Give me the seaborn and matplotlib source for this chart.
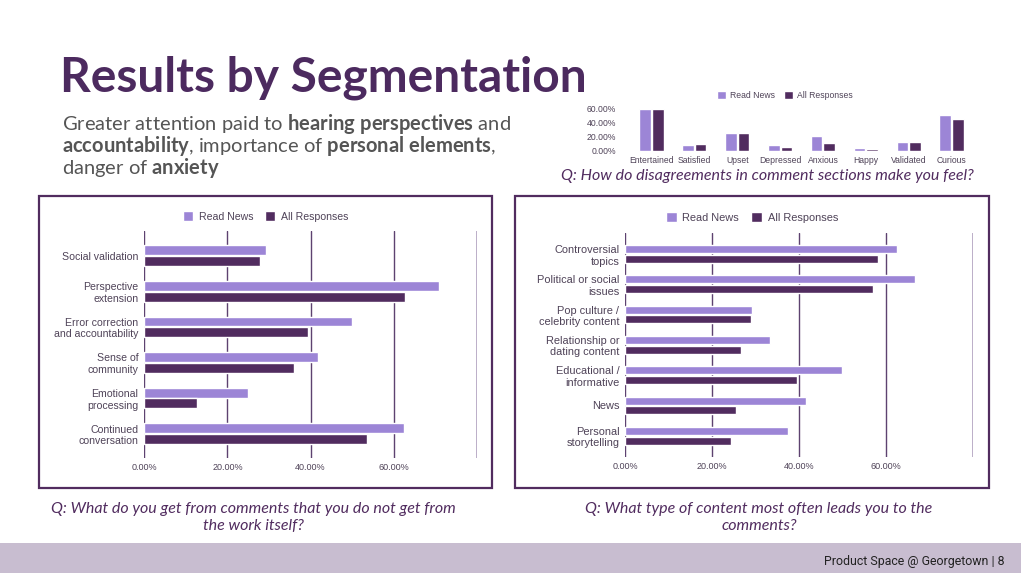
import numpy as np
import pandas as pd
import matplotlib
matplotlib.use("Agg")
import matplotlib.pyplot as plt
import seaborn as sns
from matplotlib.patches import Rectangle
from matplotlib.ticker import PercentFormatter

# ---- data ----
feel_labels = ['Entertained', 'Satisfied', 'Upset', 'Depressed', 'Anxious',
               'Happy', 'Validated', 'Curious']
feel_read = [0.585, 0.080, 0.250, 0.080, 0.210, 0.042, 0.125, 0.505]
feel_all = [0.585, 0.094, 0.250, 0.052, 0.104, 0.024, 0.123, 0.453]

get_labels = ['Social validation', 'Perspective\nextension',
              'Error correction\nand accountability', 'Sense of\ncommunity',
              'Emotional\nprocessing', 'Continued\nconversation']
get_read = [0.292, 0.709, 0.499, 0.417, 0.250, 0.624]
get_all = [0.279, 0.628, 0.395, 0.360, 0.127, 0.536]

content_labels = ['Controversial\ntopics', 'Political or social\nissues',
                  'Pop culture /\ncelebrity content', 'Relationship or\ndating content',
                  'Educational /\ninformative', 'News', 'Personal\nstorytelling']
content_read = [0.625, 0.668, 0.292, 0.334, 0.500, 0.416, 0.375]
content_all = [0.582, 0.571, 0.290, 0.266, 0.395, 0.255, 0.243]

series_names = ['Read News', 'All Responses']

# ---- style ----
W, H = 1021, 573
LIGHT = '#9c85d6'
DARK = '#512c5f'
TITLE = '#4c2a5f'
TICK = '#4f4358'
GRID = '#5d4270'
GRID_LIGHT = '#bcaec8'
PALETTE = {series_names[0]: LIGHT, series_names[1]: DARK}

sns.set_theme(style='white')
plt.rcParams['font.family'] = ['Liberation Sans', 'DejaVu Sans']
plt.rcParams['mathtext.fontset'] = 'custom'
plt.rcParams['mathtext.rm'] = 'Lato'
plt.rcParams['mathtext.bf'] = 'Lato:bold'
plt.rcParams['mathtext.it'] = 'Lato:italic'


def fx(px):
    return px / W


def fy(py):
    return 1 - py / H


def long_frame(labels, read, allr):
    return pd.DataFrame({
        'label': list(labels) * 2,
        'value': list(read) + list(allr),
        'group': [series_names[0]] * len(labels) + [series_names[1]] * len(labels),
    })


def place_legend(ax, cx, cy, size):
    sns.move_legend(ax, 'center', bbox_to_anchor=(fx(cx), fy(cy)),
                    bbox_transform=fig.transFigure, ncol=2, title=None,
                    frameon=False, fontsize=size, handlelength=1.0,
                    handleheight=1.05, handletextpad=0.5, columnspacing=1.1,
                    labelcolor=TICK)


def hbar_panel(rect, labels, read, allr, width, gap, label_size, legend_xy):
    ax = fig.add_axes(rect)
    df = long_frame(labels, read, allr)
    sns.barplot(data=df, x='value', y='label', hue='group', orient='h',
                palette=PALETTE, saturation=1, width=width, gap=gap, ax=ax)
    ax.set_xlim(0, 0.8)
    n = len(labels)
    ax.set_ylim(n - 1 + 0.69, -0.70)
    ax.set_xticks([0, 0.2, 0.4, 0.6, 0.8])
    ax.set_xticklabels(['0.00%', '20.00%', '40.00%', '60.00%', ''])
    ax.set_xlabel('')
    ax.set_ylabel('')
    for s in ax.spines.values():
        s.set_visible(False)
    for xv in [0, 0.2, 0.4, 0.6]:
        ax.axvline(xv, color=GRID, lw=1.0, zorder=0)
    ax.axvline(0.8, color=GRID_LIGHT, lw=1.4, zorder=0)
    ax.tick_params(axis='y', length=0, pad=4.3, labelsize=label_size, labelcolor=TICK)
    ax.tick_params(axis='x', length=0, pad=3.5, labelsize=6.5, labelcolor=TICK)
    place_legend(ax, legend_xy[0], legend_xy[1], legend_xy[2])
    return ax


fig = plt.figure(figsize=(W / 100, H / 100), dpi=100)
fig.patch.set_facecolor('white')

# footer band
fig.patches.append(Rectangle((0, 0), 1, fy(543), transform=fig.transFigure,
                             facecolor='#c8bdd0', edgecolor='none', zorder=0))
fig.text(fx(1004), fy(562), 'Product Space @ Georgetown | 8', ha='right', va='center',
         fontsize=8.9, color='#222222', family=['Roboto', 'DejaVu Sans'])

# title and subtitle
fig.text(fx(60), fy(78), 'Results by Segmentation', ha='left', va='center',
         fontsize=34.5, fontweight='bold', color=TITLE, family=['Lato', 'DejaVu Sans'])
sub_lines = [
    r'Greater attention paid to $\mathbf{hearing\ perspectives}$ and',
    r'$\mathbf{accountability}$, importance of $\mathbf{personal\ elements}$,',
    r'danger of $\mathbf{anxiety}$',
]
for i, line in enumerate(sub_lines):
    fig.text(fx(62), fy(130 + 22 * i), line, ha='left', va='baseline',
             fontsize=14.5, color='#555555', family=['Lato', 'DejaVu Sans'])

# chart boxes
for x0, x1 in [(39, 492), (515, 989)]:
    fig.patches.append(Rectangle((fx(x0), fy(488)), fx(x1) - fx(x0), fy(196) - fy(488),
                                 transform=fig.transFigure, facecolor='none',
                                 edgecolor=DARK, lw=1.6, zorder=1))

# top-right column chart
ax_top = fig.add_axes([fx(630), fy(150.7), fx(973) - fx(630), (150.7 - 108.3) / H])
sns.barplot(data=long_frame(feel_labels, feel_read, feel_all), x='label', y='value',
            hue='group', palette=PALETTE, saturation=1, width=0.585, gap=0.07, ax=ax_top)
ax_top.set_ylim(0, 0.6)
ax_top.set_xlim(-0.5, len(feel_labels) - 0.5)
ax_top.set_yticks([0, 0.2, 0.4, 0.6])
ax_top.yaxis.set_major_formatter(PercentFormatter(1.0, decimals=2))
ax_top.set_xlabel('')
ax_top.set_ylabel('')
for s in ax_top.spines.values():
    s.set_visible(False)
ax_top.tick_params(axis='both', length=0, labelsize=6.2, labelcolor=TICK)
ax_top.tick_params(axis='x', pad=3.5)
ax_top.tick_params(axis='y', pad=10)
place_legend(ax_top, 785, 95.3, 6.2)

cap = dict(ha='center', va='center', fontsize=11.5, style='italic', color=DARK,
           family=['Lato', 'DejaVu Sans'])
fig.text(fx(767.5), fy(176), 'Q: How do disagreements in comment sections make you feel?', **cap)

# bottom-left chart
hbar_panel([fx(144.3), fy(458.3), fx(476.7) - fx(144.3), (458.3 - 230.7) / H],
           get_labels, get_read, get_all, 0.60, 0.07, 7.6, (265.5, 216.3, 7.6))
fig.text(fx(253), fy(509), 'Q: What do you get from comments that you do not get from', **cap)
fig.text(fx(253), fy(526), 'the work itself?', **cap)

# bottom-right chart
hbar_panel([fx(625.3), fy(456.7), fx(972.7) - fx(625.3), (456.7 - 232.7) / H],
           content_labels, content_read, content_all, 0.63, 0.16, 7.9, (752, 217.3, 7.9))
fig.text(fx(759), fy(509), 'Q: What type of content most often leads you to the', **cap)
fig.text(fx(759), fy(526), 'comments?', **cap)

fig.savefig('out.png', dpi=100)
